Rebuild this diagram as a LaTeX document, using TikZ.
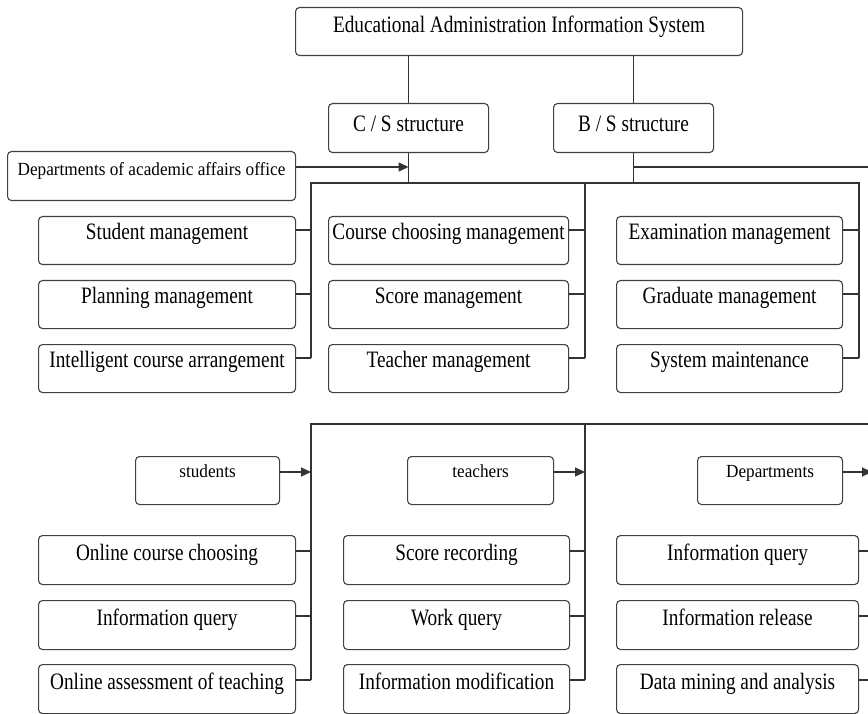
\documentclass[tikz,border=0pt]{standalone}
\usepackage{fontspec}
\setmainfont[FakeStretch=0.82]{Liberation Serif}
\newfontfamily\tagfont[FakeStretch=0.93]{Liberation Serif}
\usetikzlibrary{arrows.meta}

\begin{document}
\begin{tikzpicture}[x=1pt,y=-1pt,
  box/.style={draw=black!75, line width=1.1pt, rounded corners=4pt, anchor=north west,
    inner xsep=2pt, inner ysep=0pt, text height=23pt, text depth=25pt,
    font=\fontsize{23.5}{26}\selectfont},
  lowbox/.style={box, text height=25pt, text depth=24pt},
  tagbox/.style={box, font=\tagfont\fontsize{18.5}{21}\selectfont,
    text height=21pt, text depth=27pt},
  wire/.style={draw=black!80, line width=1.1pt},
  feed/.style={wire, -{Triangle[length=10pt,width=9pt]}}
]
\useasboundingbox (0,0) rectangle (868,714);
\clip (0,0) rectangle (868,714);

% ---------- system and its two structures ----------
\node[box, minimum width=447pt, text height=25pt, text depth=23pt] (sys) at (295,7)
  {Educational Administration Information System};
\node[box, minimum width=160pt, text height=28pt, text depth=21pt] (cs) at (328,103) {C / S structure};
\node[box, minimum width=160pt, text height=28pt, text depth=21pt] (bs) at (553,103) {B / S structure};
\node[tagbox, minimum width=288pt, text height=24pt, text depth=25pt] (office) at (7,151)
  {Departments of academic affairs office};

% ---------- C/S modules ----------
\node[box, minimum width=257pt] (sm)  at (38,216) {Student management};
\node[box, minimum width=257pt] (pm)  at (38,280) {Planning management};
\node[box, minimum width=257pt] (ica) at (38,344) {Intelligent course arrangement};
\node[box, minimum width=240pt] (ccm) at (328,216) {Course choosing management};
\node[box, minimum width=240pt] (scm) at (328,280) {Score management};
\node[box, minimum width=240pt] (tm)  at (328,344) {Teacher management};
\node[box, minimum width=226pt] (em)  at (616,216) {Examination management};
\node[box, minimum width=226pt] (gm)  at (616,280) {Graduate management};
\node[box, minimum width=226pt] (smt) at (616,344) {System maintenance};

% ---------- B/S user groups ----------
\node[tagbox, minimum width=144pt] (stu) at (135,456) {students};
\node[tagbox, minimum width=146pt] (tea) at (407,456) {teachers};
\node[tagbox, minimum width=145pt] (dep) at (697,456) {Departments};

\node[lowbox, minimum width=257pt] (occ) at (38,535) {Online course choosing};
\node[lowbox, minimum width=257pt] (iq1) at (38,600) {Information query};
\node[lowbox, minimum width=257pt] (oat) at (38,664) {Online assessment of teaching};
\node[lowbox, minimum width=226pt] (sr)  at (343,535) {Score recording};
\node[lowbox, minimum width=226pt] (wq)  at (343,600) {Work query};
\node[lowbox, minimum width=226pt] (im)  at (343,664) {Information modification};
\node[lowbox, minimum width=242pt] (iq2) at (616,535) {Information query};
\node[lowbox, minimum width=242pt] (ir)  at (616,600) {Information release};
\node[lowbox, minimum width=242pt] (dma) at (616,664) {Data mining and analysis};

% ---------- bus coordinates ----------
\coordinate (jL) at (311,183);
\coordinate (jM) at (585,183);
\coordinate (jR) at (859,183);
\coordinate (jLe) at (311,358);
\coordinate (jMe) at (585,358);
\coordinate (jRe) at (859,358);
\coordinate (edge) at (872,0);

\coordinate (kL) at (311,424);
\coordinate (kM) at (585,424);
\coordinate (kR) at (872,424);
\coordinate (kLe) at (311,680);
\coordinate (kMe) at (585,680);
\coordinate (kRe) at (872,680);

% ---------- upper tree ----------
\draw[wire] (cs.north |- sys.south) -- (cs.north);
\draw[wire] (bs.north |- sys.south) -- (bs.north);
\draw[wire] (cs.south) -- (cs.south |- jL);
\draw[wire] (bs.south) -- (bs.south |- jL);
\draw[wire] (jLe) -- (jL) -- (jR) -- (jRe);
\draw[wire] (jM) -- (jMe);

\path ([yshift=-16pt]office.north east) coordinate (o1);
\draw[feed] (o1) -- (o1 -| cs.south);
\path (bs.south |- o1) coordinate (b1);
\draw[wire] (b1) -- (b1 -| edge);

\foreach \n/\v in {sm/jL, pm/jL, ica/jL, ccm/jM, scm/jM, tm/jM, em/jR, gm/jR, smt/jR} {
  \path ([yshift=-14pt]\n.north east) coordinate (tmp);
  \draw[wire] (tmp) -- (tmp -| \v);
}

% ---------- lower tree ----------
\draw[wire] (kLe) -- (kL) -- (kR) -- (kRe);
\draw[wire] (kM) -- (kMe);

\foreach \n/\v in {stu/kL, tea/kM, dep/kR} {
  \path ([yshift=-16pt]\n.north east) coordinate (tmp);
  \draw[feed] (tmp) -- (tmp -| \v);
}

\foreach \n/\v in {occ/kL, iq1/kL, oat/kL, sr/kM, wq/kM, im/kM, iq2/kR, ir/kR, dma/kR} {
  \path ([yshift=-16pt]\n.north east) coordinate (tmp);
  \draw[wire] (tmp) -- (tmp -| \v);
}
\end{tikzpicture}
\end{document}
